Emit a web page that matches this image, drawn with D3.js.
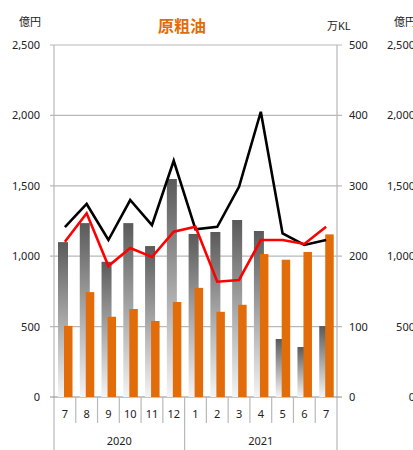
<!DOCTYPE html>
<meta charset="utf-8">
<html>
<head>
<title>原粗油</title>
<style>
  body { margin: 0; background: #fff; }
  text { font-family: "Noto Sans", "Noto Sans CJK JP", sans-serif; font-size: 11px; fill: #222; }
</style>
</head>
<body>
<div id="viz"></div>
<script src="https://cdnjs.cloudflare.com/ajax/libs/d3/7.8.5/d3.min.js"></script>
<script>
var months = ["7", "8", "9", "10", "11", "12", "1", "2", "3", "4", "5", "6", "7"];
var years = [{ label: "2020", count: 6 }, { label: "2021", count: 7 }];
var grayBars = [1100, 1235, 960, 1235, 1072, 1548, 1158, 1172, 1257, 1179, 412, 355, 504];
var orangeBars = [101, 149, 114, 125, 108, 135, 155, 121, 131, 203, 195, 206, 231];
var blackLine = [1207, 1371, 1115, 1399, 1221, 1678, 1191, 1209, 1493, 2026, 1162, 1080, 1115];
var redLine = [1103, 1305, 930, 1058, 994, 1174, 1209, 819, 831, 1115, 1115, 1087, 1209];
var leftTicks = [0, 500, 1000, 1500, 2000, 2500];
var rightTicks = [0, 100, 200, 300, 400, 500];

var W = 413, H = 450;
var x0 = 54, x1 = 337, yTop = 45, yBot = 397;

var svg = d3.select("#viz").append("svg")
    .attr("width", W).attr("height", H);

var defs = svg.append("defs");
var grad = defs.append("linearGradient")
    .attr("id", "grayGrad")
    .attr("x1", 0).attr("y1", 0).attr("x2", 0).attr("y2", 1);
grad.append("stop").attr("offset", "0%").attr("stop-color", "#5a5a5a");
grad.append("stop").attr("offset", "100%").attr("stop-color", "#f4f4f4");

var x = d3.scaleBand().domain(d3.range(months.length)).range([x0, x1]);
var yL = d3.scaleLinear().domain([0, 2500]).range([yBot, yTop]);
var yR = d3.scaleLinear().domain([0, 500]).range([yBot, yTop]);

// gridlines
svg.append("g").selectAll("line")
    .data(leftTicks.slice(1)).enter()
    .append("line")
    .attr("x1", x0 - 4).attr("x2", x1 + 5)
    .attr("y1", function (d) { return yL(d); })
    .attr("y2", function (d) { return yL(d); })
    .attr("stroke", "#b8b8b8").attr("stroke-width", 1.2);

// axis frame lines
svg.append("line").attr("x1", x0).attr("x2", x0).attr("y1", yTop).attr("y2", H)
    .attr("stroke", "#b8b8b8").attr("stroke-width", 1.2);
svg.append("line").attr("x1", x1).attr("x2", x1).attr("y1", yTop).attr("y2", H)
    .attr("stroke", "#b8b8b8").attr("stroke-width", 1.2);
svg.append("line").attr("x1", x0 - 4).attr("x2", x1 + 5).attr("y1", yBot).attr("y2", yBot)
    .attr("stroke", "#8c8c8c").attr("stroke-width", 1.2);

// gray bars
svg.append("g").selectAll("rect")
    .data(grayBars).enter()
    .append("rect")
    .attr("x", function (d, i) { return x(i) + 4; })
    .attr("width", 10)
    .attr("y", function (d) { return yL(d); })
    .attr("height", function (d) { return yBot - yL(d); })
    .attr("fill", "url(#grayGrad)");

// orange bars
svg.append("g").selectAll("rect")
    .data(orangeBars).enter()
    .append("rect")
    .attr("x", function (d, i) { return x(i) + 10; })
    .attr("width", 8.5)
    .attr("y", function (d) { return yR(d); })
    .attr("height", function (d) { return yBot - yR(d); })
    .attr("fill", "#e36c0a");

var line = d3.line()
    .x(function (d, i) { return x(i) + x.bandwidth() / 2; })
    .y(function (d) { return yL(d); });

svg.append("path").datum(blackLine)
    .attr("d", line).attr("fill", "none")
    .attr("stroke", "#000").attr("stroke-width", 2.6);
svg.append("path").datum(redLine)
    .attr("d", line).attr("fill", "none")
    .attr("stroke", "#ff0000").attr("stroke-width", 2.6);

// left tick labels
var fmt = d3.format(",");
svg.append("g").selectAll("text")
    .data(leftTicks).enter()
    .append("text")
    .attr("x", 40).attr("y", function (d) { return yL(d) + 4; })
    .attr("text-anchor", "end")
    .text(function (d) { return fmt(d); });

// right tick labels
svg.append("g").selectAll("text")
    .data(rightTicks).enter()
    .append("text")
    .attr("x", 349).attr("y", function (d) { return yR(d) + 4; })
    .text(function (d) { return d; });

// partial axis of the neighbouring chart (cut off at the edge, as in the source)
svg.append("g").selectAll("text")
    .data(leftTicks).enter()
    .append("text")
    .attr("x", 415).attr("y", function (d) { return yL(d) + 4; })
    .attr("text-anchor", "end")
    .text(function (d) { return fmt(d); });

svg.append("text").attr("x", 30).attr("y", 26).attr("text-anchor", "middle").text("億円");
svg.append("text").attr("x", 327).attr("y", 30).text("万KL");
svg.append("text").attr("x", 394).attr("y", 26).text("億円");

svg.append("text").attr("x", 182).attr("y", 32)
    .attr("text-anchor", "middle")
    .style("font-size", "16px").style("font-weight", "bold")
    .style("fill", "#e36c0a")
    .text("原粗油");

// category axis
svg.append("g").selectAll("text")
    .data(months).enter()
    .append("text")
    .attr("x", function (d, i) { return x(i) + x.bandwidth() / 2; })
    .attr("y", 418)
    .attr("text-anchor", "middle")
    .text(function (d) { return d; });

svg.append("g").selectAll("line")
    .data(d3.range(1, months.length)).enter()
    .append("line")
    .attr("x1", function (d) { return x(d); })
    .attr("x2", function (d) { return x(d); })
    .attr("y1", yBot).attr("y2", function (d) { return d === years[0].count ? H : 423; })
    .attr("stroke", "#b8b8b8").attr("stroke-width", 1.2);

var start = 0;
years.forEach(function (yr) {
    var a = x(start), b = x(start + yr.count - 1) + x.bandwidth();
    svg.append("text")
        .attr("x", (a + b) / 2).attr("y", 445)
        .attr("text-anchor", "middle")
        .text(yr.label);
    start += yr.count;
});
</script>
</body>
</html>
